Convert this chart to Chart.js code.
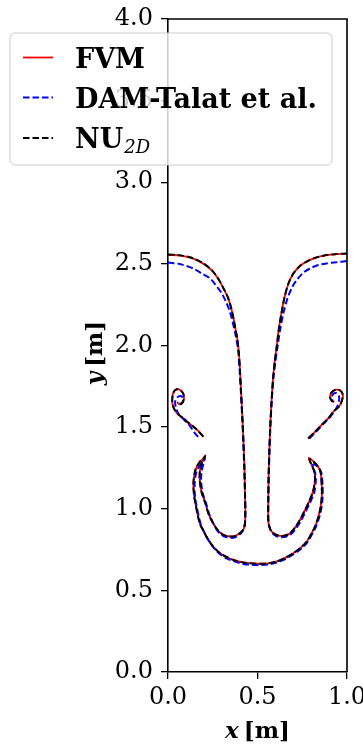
<!DOCTYPE html>
<html lang="en">
<head>
  <meta charset="UTF-8">
  <title>Interface position: FVM vs DAM vs NU2D</title>
  <script src="https://cdn.jsdelivr.net/npm/chart.js@4.4.0/dist/chart.umd.min.js"></script>
  <style>
    body { margin: 0; background: #fff; }
    canvas { display: block; }
  </style>
</head>
<body>
  <canvas id="interface-chart" width="363" height="752"></canvas>

  <script>
    // tick values
    const xTickValues = [0, 0.5, 1.0];
    const yTickValues = [0, 0.5, 1.0, 1.5, 2.0, 2.5, 3.0, 3.5, 4.0];

    // legend labels
    const seriesLabels = ['FVM', 'DAM-Talat et al.', 'NU2D'];

    // NU2D: main interface (left wall -> stem -> cap -> bottom -> cap -> stem -> right wall)
    const nuMainX = [0.000, 0.070, 0.141, 0.190, 0.235, 0.265, 0.291, 0.315, 0.337, 0.353, 0.366, 0.377, 0.387, 0.396, 0.402, 0.409, 0.416, 0.422, 0.427, 0.430, 0.432, 0.430, 0.424, 0.411, 0.390, 0.365, 0.335, 0.309, 0.285, 0.263, 0.243, 0.225, 0.207, 0.188, 0.177, 0.179, 0.193, 0.207, 0.193, 0.176, 0.153, 0.142, 0.145, 0.153, 0.177, 0.200, 0.225, 0.255, 0.291, 0.330, 0.365, 0.420, 0.476, 0.514, 0.560, 0.607, 0.655, 0.700, 0.740, 0.775, 0.800, 0.821, 0.840, 0.853, 0.859, 0.859, 0.853, 0.843, 0.828, 0.808, 0.790, 0.805, 0.817, 0.821, 0.810, 0.784, 0.760, 0.737, 0.710, 0.682, 0.655, 0.626, 0.600, 0.579, 0.566, 0.560, 0.560, 0.562, 0.566, 0.571, 0.578, 0.587, 0.596, 0.608, 0.619, 0.634, 0.652, 0.673, 0.700, 0.740, 0.785, 0.830, 0.886, 0.940, 1.000];
    const nuMainY = [2.558, 2.552, 2.534, 2.508, 2.472, 2.435, 2.390, 2.340, 2.289, 2.230, 2.166, 2.100, 2.044, 1.952, 1.850, 1.700, 1.550, 1.400, 1.250, 1.100, 0.980, 0.912, 0.880, 0.860, 0.842, 0.830, 0.832, 0.840, 0.860, 0.891, 0.930, 0.973, 1.040, 1.100, 1.177, 1.238, 1.292, 1.320, 1.303, 1.285, 1.238, 1.157, 1.090, 1.034, 0.912, 0.860, 0.810, 0.765, 0.728, 0.703, 0.687, 0.671, 0.665, 0.663, 0.666, 0.677, 0.699, 0.728, 0.760, 0.799, 0.845, 0.891, 0.950, 1.013, 1.075, 1.136, 1.220, 1.250, 1.272, 1.294, 1.303, 1.262, 1.230, 1.177, 1.105, 1.034, 0.980, 0.932, 0.885, 0.850, 0.836, 0.834, 0.843, 0.860, 0.890, 0.932, 1.050, 1.200, 1.350, 1.500, 1.650, 1.800, 1.900, 2.000, 2.100, 2.200, 2.300, 2.380, 2.440, 2.490, 2.520, 2.540, 2.554, 2.560, 2.564];
    // NU2D: detached roll-ups near the walls
    const nuRollLX = [0.197, 0.170, 0.142, 0.110, 0.086, 0.060, 0.040, 0.026, 0.024, 0.030, 0.048, 0.068, 0.085, 0.089, 0.080, 0.065, 0.052];
    const nuRollLY = [1.442, 1.475, 1.503, 1.530, 1.554, 1.575, 1.600, 1.636, 1.675, 1.712, 1.732, 1.727, 1.705, 1.675, 1.648, 1.640, 1.652];
    const nuRollRX = [0.784, 0.820, 0.868, 0.900, 0.924, 0.945, 0.962, 0.977, 0.972, 0.955, 0.934, 0.912, 0.905, 0.915, 0.930];
    const nuRollRY = [1.432, 1.470, 1.524, 1.560, 1.595, 1.615, 1.636, 1.687, 1.712, 1.728, 1.728, 1.710, 1.685, 1.660, 1.655];

    // FVM (sits under the NU2D dashes almost everywhere)
    const fvmMainX = [0.000, 0.070, 0.141, 0.190, 0.235, 0.265, 0.291, 0.315, 0.337, 0.353, 0.366, 0.377, 0.387, 0.396, 0.402, 0.409, 0.416, 0.422, 0.427, 0.430, 0.432, 0.430, 0.424, 0.411, 0.390, 0.365, 0.335, 0.309, 0.285, 0.263, 0.243, 0.225, 0.207, 0.188, 0.177, 0.179, 0.194, 0.209, 0.193, 0.176, 0.153, 0.142, 0.145, 0.153, 0.177, 0.200, 0.225, 0.255, 0.291, 0.330, 0.365, 0.420, 0.476, 0.514, 0.560, 0.607, 0.655, 0.700, 0.740, 0.775, 0.800, 0.821, 0.840, 0.853, 0.859, 0.859, 0.853, 0.843, 0.828, 0.806, 0.787, 0.805, 0.817, 0.821, 0.810, 0.784, 0.760, 0.737, 0.710, 0.682, 0.655, 0.626, 0.600, 0.579, 0.566, 0.560, 0.560, 0.562, 0.566, 0.571, 0.578, 0.587, 0.596, 0.608, 0.619, 0.634, 0.652, 0.673, 0.700, 0.740, 0.785, 0.830, 0.886, 0.940, 1.000];
    const fvmMainY = [2.556, 2.550, 2.532, 2.506, 2.470, 2.433, 2.388, 2.338, 2.287, 2.228, 2.164, 2.098, 2.042, 1.950, 1.850, 1.700, 1.550, 1.400, 1.250, 1.100, 0.980, 0.912, 0.880, 0.860, 0.842, 0.830, 0.832, 0.840, 0.860, 0.891, 0.930, 0.973, 1.040, 1.100, 1.177, 1.238, 1.294, 1.326, 1.303, 1.285, 1.238, 1.157, 1.090, 1.034, 0.912, 0.860, 0.810, 0.765, 0.728, 0.703, 0.687, 0.671, 0.665, 0.663, 0.666, 0.677, 0.699, 0.728, 0.760, 0.799, 0.845, 0.891, 0.950, 1.013, 1.075, 1.136, 1.220, 1.250, 1.272, 1.296, 1.310, 1.262, 1.230, 1.177, 1.105, 1.034, 0.980, 0.932, 0.885, 0.850, 0.836, 0.834, 0.843, 0.860, 0.890, 0.932, 1.050, 1.200, 1.350, 1.500, 1.650, 1.800, 1.900, 2.000, 2.100, 2.200, 2.300, 2.380, 2.440, 2.490, 2.520, 2.540, 2.554, 2.560, 2.562];
    const fvmRollLX = [0.199, 0.170, 0.142, 0.110, 0.086, 0.060, 0.040, 0.026, 0.024, 0.030, 0.048, 0.068, 0.085, 0.089, 0.080, 0.065, 0.052];
    const fvmRollLY = [1.440, 1.475, 1.503, 1.530, 1.554, 1.575, 1.600, 1.636, 1.675, 1.712, 1.732, 1.727, 1.705, 1.675, 1.648, 1.640, 1.652];
    const fvmRollRX = [0.782, 0.820, 0.868, 0.900, 0.924, 0.945, 0.962, 0.977, 0.972, 0.955, 0.934, 0.912, 0.905, 0.915, 0.930];
    const fvmRollRY = [1.430, 1.470, 1.524, 1.560, 1.595, 1.615, 1.636, 1.687, 1.712, 1.728, 1.728, 1.710, 1.685, 1.660, 1.655];

    // DAM-Talat et al.
    const damMainX = [0.000, 0.070, 0.141, 0.190, 0.235, 0.270, 0.300, 0.325, 0.346, 0.362, 0.374, 0.385, 0.393, 0.400, 0.408, 0.415, 0.421, 0.426, 0.430, 0.432, 0.430, 0.423, 0.410, 0.390, 0.365, 0.335, 0.309, 0.285, 0.265, 0.247, 0.230, 0.212, 0.194, 0.185, 0.188, 0.199, 0.207, 0.195, 0.181, 0.160, 0.149, 0.150, 0.157, 0.183, 0.204, 0.228, 0.258, 0.293, 0.330, 0.365, 0.420, 0.476, 0.514, 0.560, 0.607, 0.655, 0.700, 0.742, 0.777, 0.803, 0.826, 0.845, 0.858, 0.864, 0.864, 0.858, 0.846, 0.828, 0.812, 0.809, 0.821, 0.826, 0.817, 0.790, 0.765, 0.742, 0.714, 0.685, 0.655, 0.626, 0.600, 0.580, 0.567, 0.561, 0.561, 0.563, 0.567, 0.572, 0.579, 0.589, 0.600, 0.613, 0.627, 0.645, 0.668, 0.695, 0.719, 0.755, 0.793, 0.840, 0.886, 0.940, 1.000];
    const damMainY = [2.509, 2.498, 2.472, 2.440, 2.411, 2.365, 2.320, 2.265, 2.207, 2.140, 2.084, 2.020, 1.962, 1.850, 1.700, 1.550, 1.400, 1.250, 1.100, 0.980, 0.910, 0.875, 0.853, 0.835, 0.822, 0.825, 0.833, 0.853, 0.885, 0.925, 0.968, 1.035, 1.095, 1.170, 1.230, 1.280, 1.310, 1.292, 1.272, 1.230, 1.157, 1.090, 1.030, 0.905, 0.853, 0.803, 0.757, 0.720, 0.695, 0.679, 0.662, 0.656, 0.655, 0.658, 0.670, 0.692, 0.721, 0.753, 0.792, 0.840, 0.888, 0.948, 1.010, 1.075, 1.136, 1.215, 1.245, 1.265, 1.272, 1.250, 1.225, 1.177, 1.100, 1.030, 0.975, 0.925, 0.878, 0.843, 0.828, 0.826, 0.836, 0.855, 0.888, 0.930, 1.050, 1.200, 1.350, 1.500, 1.650, 1.800, 1.900, 2.000, 2.100, 2.200, 2.290, 2.360, 2.401, 2.445, 2.472, 2.493, 2.503, 2.510, 2.517];
    const damRollLX = [0.168, 0.145, 0.120, 0.090, 0.060, 0.045, 0.040, 0.050, 0.070, 0.085, 0.080, 0.065];
    const damRollLY = [1.440, 1.470, 1.510, 1.545, 1.580, 1.615, 1.655, 1.680, 1.690, 1.675, 1.650, 1.640];
    const damRollRX = [0.790, 0.830, 0.868, 0.900, 0.925, 0.945, 0.955, 0.955, 0.943, 0.925, 0.915, 0.920];
    const damRollRY = [1.430, 1.475, 1.520, 1.555, 1.590, 1.625, 1.660, 1.690, 1.708, 1.705, 1.685, 1.660];

    // join separate pieces of one curve, with a gap point between them
    function joinSegments(segments) {
      const pts = [];
      segments.forEach(([xs, ys], k) => {
        if (k > 0) pts.push({ x: null, y: null });
        xs.forEach((x, i) => pts.push({ x: x, y: ys[i] }));
      });
      return pts;
    }

    const serif = '"DejaVu Serif", "Liberation Serif", serif';
    const seriesStyles = [
      { color: '#ff0000', dash: [], width: 1.8 },
      { color: '#0000ff', dash: [6.5, 3], width: 2 },
      { color: '#000000', dash: [6.5, 3], width: 2 }
    ];

    // top/right spines, axis titles and the legend box
    const extras = {
      id: 'extras',
      afterDraw(chart) {
        const ctx = chart.ctx;
        const a = chart.chartArea;
        ctx.save();

        ctx.strokeStyle = '#000';
        ctx.lineWidth = 1.6;
        ctx.beginPath();
        ctx.moveTo(a.left, a.top);
        ctx.lineTo(a.right, a.top);
        ctx.lineTo(a.right, a.bottom);
        ctx.stroke();

        // axis titles: bold italic symbol + bold unit
        function axisTitle(sym, x, y, rotate) {
          ctx.save();
          ctx.translate(x, y);
          if (rotate) ctx.rotate(-Math.PI / 2);
          ctx.fillStyle = '#000';
          ctx.textBaseline = 'alphabetic';
          const f1 = 'italic bold 23px ' + serif;
          const f2 = 'bold 23px ' + serif;
          ctx.font = f1;
          const w1 = ctx.measureText(sym).width;
          ctx.font = f2;
          const w2 = ctx.measureText('[m]').width;
          const gap = 5;
          const cx = -(w1 + gap + w2) / 2;
          ctx.font = f1;
          ctx.textAlign = 'left';
          ctx.fillText(sym, cx, 0);
          ctx.font = f2;
          ctx.fillText('[m]', cx + w1 + gap, 0);
          ctx.restore();
        }
        axisTitle('x', (a.left + a.right) / 2, 738, false);
        axisTitle('y', 102, 353, true);

        // legend
        const bx = 10, by = 33, bw = 322, bh = 132;
        ctx.beginPath();
        ctx.roundRect(bx, by, bw, bh, 5);
        ctx.fillStyle = 'rgba(255,255,255,0.8)';
        ctx.fill();
        ctx.strokeStyle = '#cccccc';
        ctx.lineWidth = 1;
        ctx.stroke();

        const rows = [57.5, 97.5, 138];
        seriesLabels.forEach((label, i) => {
          const st = seriesStyles[i];
          const y = rows[i];
          ctx.strokeStyle = st.color;
          ctx.lineWidth = st.width;
          ctx.setLineDash(st.dash);
          ctx.beginPath();
          ctx.moveTo(23, y);
          ctx.lineTo(53, y);
          ctx.stroke();
          ctx.setLineDash([]);

          ctx.fillStyle = '#000';
          ctx.textAlign = 'left';
          ctx.textBaseline = 'alphabetic';
          ctx.font = 'bold 27px ' + serif;
          if (label === 'NU2D') {
            ctx.fillText('NU', 75, y + 10);
            const w = ctx.measureText('NU').width;
            ctx.font = 'italic 18px ' + serif;
            ctx.fillText('2D', 75 + w + 1, y + 15);
          } else {
            ctx.fillText(label, 75, y + 10);
          }
        });

        ctx.restore();
      }
    };

    const ctx = document.getElementById('interface-chart').getContext('2d');
    const tickFont = { family: serif, size: 24 };

    new Chart(ctx, {
      type: 'scatter',
      data: {
        datasets: [
          {
            label: seriesLabels[0],
            data: joinSegments([[fvmMainX, fvmMainY], [fvmRollLX, fvmRollLY], [fvmRollRX, fvmRollRY]]),
            borderColor: seriesStyles[0].color,
            borderWidth: seriesStyles[0].width,
            borderDash: seriesStyles[0].dash,
            order: 3
          },
          {
            label: seriesLabels[1],
            data: joinSegments([[damMainX, damMainY], [damRollLX, damRollLY], [damRollRX, damRollRY]]),
            borderColor: seriesStyles[1].color,
            borderWidth: seriesStyles[1].width,
            borderDash: seriesStyles[1].dash,
            order: 2
          },
          {
            label: seriesLabels[2],
            data: joinSegments([[nuMainX, nuMainY], [nuRollLX, nuRollLY], [nuRollRX, nuRollRY]]),
            borderColor: seriesStyles[2].color,
            borderWidth: seriesStyles[2].width,
            borderDash: seriesStyles[2].dash,
            order: 1
          }
        ]
      },
      options: {
        responsive: false,
        animation: false,
        devicePixelRatio: 1,
        showLine: true,
        spanGaps: false,
        elements: {
          point: { radius: 0, hoverRadius: 0 },
          line: { tension: 0.3, fill: false, borderCapStyle: 'butt' }
        },
        layout: { padding: { top: 19, right: 16, left: 0, bottom: 0 } },
        plugins: {
          legend: { display: false },
          tooltip: { enabled: false }
        },
        scales: {
          x: {
            type: 'linear',
            min: 0,
            max: 1,
            afterBuildTicks: s => { s.ticks = xTickValues.map(v => ({ value: v })); },
            afterFit: s => { s.height = 80; s.paddingLeft = 0; s.paddingRight = 0; },
            ticks: {
              font: tickFont, color: '#000', padding: 4, maxRotation: 0, autoSkip: false,
              callback: v => v.toFixed(1)
            },
            grid: { drawOnChartArea: false, drawTicks: true, tickLength: 7, color: '#000', lineWidth: 1.3 },
            border: { display: true, color: '#000', width: 1.6 }
          },
          y: {
            type: 'linear',
            min: 0,
            max: 4,
            afterBuildTicks: s => { s.ticks = yTickValues.map(v => ({ value: v })); },
            afterFit: s => { s.width = 168; s.paddingTop = 0; s.paddingBottom = 0; },
            ticks: {
              font: tickFont, color: '#000', padding: 8, autoSkip: false,
              callback: v => v.toFixed(1)
            },
            grid: { drawOnChartArea: false, drawTicks: true, tickLength: 7, color: '#000', lineWidth: 1.3 },
            border: { display: true, color: '#000', width: 1.6 }
          }
        }
      },
      plugins: [extras]
    });
  </script>
</body>
</html>
